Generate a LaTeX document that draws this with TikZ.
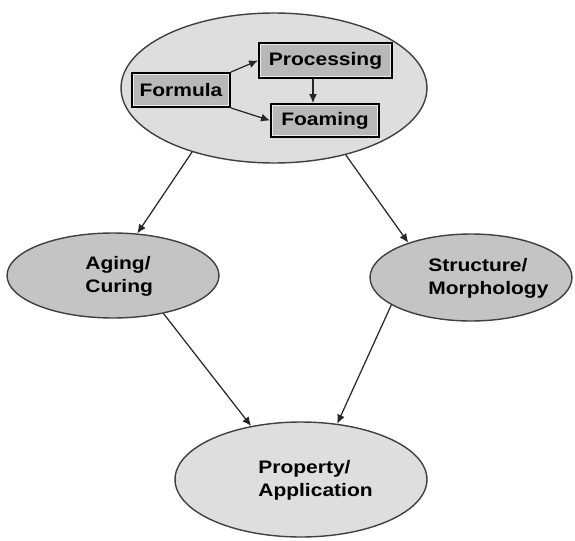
\documentclass[tikz,border=0pt]{standalone}
\usepackage{fontspec}
\newfontfamily\lblfont{Liberation Sans}[FakeStretch=1.16]
\usetikzlibrary{shapes.geometric, arrows.meta}

\begin{document}
\begin{tikzpicture}[x=0.02cm, y=-0.02cm,
    every node/.style={font=\lblfont\fontsize{10.3}{13}\selectfont\bfseries},
    bigell/.style={ellipse, draw=black!75, line width=0.8pt, fill=black!13, inner sep=0pt},
    midell/.style={bigell, fill=black!23},
    stepbox/.style={rectangle, draw=black, line width=1.1pt, fill=black!28, inner sep=0pt,
      path picture={\draw[black!8, line width=2.6pt] (path picture bounding box.south west)
        rectangle (path picture bounding box.north east);}},
    lbl/.style={anchor=west, align=left, inner sep=0pt},
    arr/.style={draw=black!85, line width=0.7pt, -{Latex[length=1.8mm, width=1.6mm]}}]
    \useasboundingbox (0,0) rectangle (575,541);

    \node[bigell, minimum width=6.12cm, minimum height=3cm] (top) at (274,88) {};
    \node[stepbox, minimum width=1.96cm, minimum height=0.68cm] (formula) at (181,90) {Formula};
    \node[stepbox, minimum width=2.66cm, minimum height=0.70cm] (processing) at (325.5,60.5) {Processing};
    \node[stepbox, minimum width=2.16cm, minimum height=0.66cm] (foaming) at (325,120.5) {Foaming};

    \node[midell, minimum width=4.24cm, minimum height=1.70cm] (aging) at (113,275.5) {};
    \node[lbl] (agingtxt) at (85,276) {Aging/\\Curing};
    \node[midell, minimum width=4.04cm, minimum height=1.74cm] (structure) at (471,277.5) {};
    \node[lbl] (structuretxt) at (428,278) {Structure/\\Morphology};
    \node[bigell, minimum width=5.04cm, minimum height=2.30cm] (property) at (301,479.5) {};
    \node[lbl] (propertytxt) at (258,480) {Property/\\Application};

    \draw[arr] (formula.north east) -- (processing.west);
    \draw[arr] (formula.south east) -- (foaming.west);
    \draw[arr] ([xshift=-0.25cm]processing.south) -- ([xshift=-0.25cm]processing.south |- foaming.north);

    \draw[arr] (top.218) -- (aging.60);
    \draw[arr] (top.317) -- (structure.151);
    \draw[arr] (aging.323) -- (property.133);
    \draw[arr] (structure.199) -- (property.57);
\end{tikzpicture}
\end{document}
